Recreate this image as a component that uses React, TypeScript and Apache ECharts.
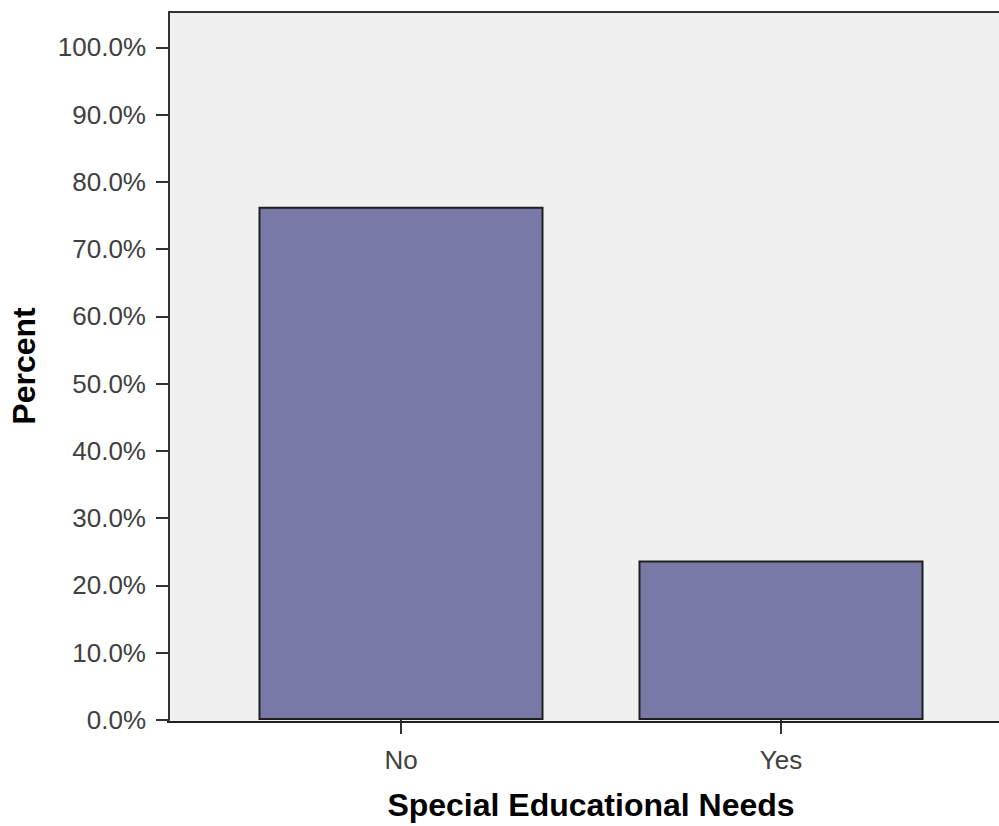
import React, { useEffect, useRef } from "react";
import * as echarts from "echarts";

const categories = ["No", "Yes"];
const percentValues = [76.3, 23.7];
const yTickValues = [0, 10, 20, 30, 40, 50, 60, 70, 80, 90, 100];
const xAxisTitle = "Special Educational Needs";
const yAxisTitle = "Percent";

export default function App() {
  const ref = useRef<HTMLDivElement>(null);
  useEffect(() => {
    if (!ref.current) return;
    const chart = echarts.init(ref.current, null, { renderer: "svg" });
    const labelFont = "'Liberation Sans', Arial, sans-serif";
    chart.setOption({
      animation: false,
      backgroundColor: "#ffffff",
      grid: { left: 210, right: 28, top: 12, bottom: 104, containLabel: false },
      graphic: [
        {
          type: "rect",
          z: -10,
          shape: { x: 168, y: 12, width: 831, height: 710 },
          style: { fill: "#f0f0f0" },
        },
        {
          type: "line",
          z: 100,
          shape: { x1: 168, y1: 12, x2: 999, y2: 12 },
          style: { stroke: "#333333", lineWidth: 2 },
        },
        {
          type: "line",
          z: 100,
          shape: { x1: 167, y1: 722, x2: 999, y2: 722 },
          style: { stroke: "#222222", lineWidth: 2 },
        },
      ],
      xAxis: {
        type: "category",
        data: categories,
        axisLine: { show: false },
        axisTick: { show: true, alignWithLabel: true, length: 14, lineStyle: { color: "#333333", width: 2 } },
        axisLabel: { margin: 27, fontSize: 26, color: "#404040", fontFamily: labelFont },
        name: xAxisTitle,
        nameLocation: "middle",
        nameGap: 69,
        nameTextStyle: { fontSize: 32, fontWeight: "bold", color: "#000000", fontFamily: labelFont },
        splitLine: { show: false },
      },
      yAxis: {
        type: "value",
        min: 0,
        max: 105.25,
        offset: 42,
        axisLine: { show: true, lineStyle: { color: "#333333", width: 2 } },
        axisTick: { show: true, length: 13, customValues: yTickValues, lineStyle: { color: "#333333", width: 2 } },
        axisLabel: {
          customValues: yTickValues,
          margin: 23,
          fontSize: 26,
          color: "#404040",
          fontFamily: labelFont,
          formatter: (v: number) => v.toFixed(1) + "%",
        },
        splitLine: { show: false },
        name: yAxisTitle,
        nameLocation: "middle",
        nameGap: 129,
        nameRotate: 90,
        nameTextStyle: { fontSize: 32, fontWeight: "bold", color: "#000000", fontFamily: labelFont },
      },
      series: [
        {
          type: "bar",
          data: percentValues,
          barWidth: "75%",
          itemStyle: { color: "#7879a6", borderColor: "#1e1e1e", borderWidth: 2 },
        },
      ],
    });
    return () => chart.dispose();
  }, []);
  return <div ref={ref} style={{ width: 999, height: 826, position: "absolute", left: 0, top: 0 }} />;
}
